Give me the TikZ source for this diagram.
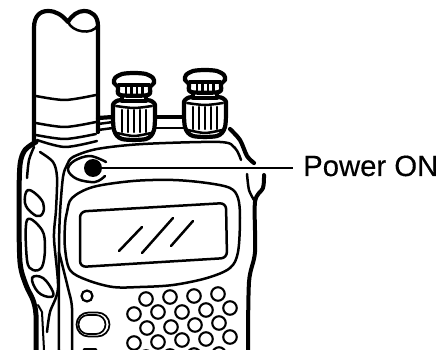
\documentclass[tikz,border=0pt]{standalone}
\usepackage{fontspec}
\setmainfont[FakeBold=0.35]{Liberation Sans}
\tikzset{
  thickline/.style={line width=4.2pt,line cap=round,line join=round},
  midline/.style={line width=2.5pt,line cap=round,line join=round},
  thinline/.style={line width=2pt,line cap=round,line join=round},
  speakerhole/.style={circle,draw,line width=2.1pt,minimum size=13.5pt,inner sep=0pt},
  knob/.pic={
    \draw[thickline,fill=white] plot[smooth cycle,tension=.5] coordinates {(-21,36)(-20,31)(-13,28)(13,28)(20,31)(21,36)(20,58)(12,67)(-12,67)(-20,58)};
    \draw[midline] plot[smooth] coordinates {(-18,34)(0,36)(18,34)};
    \foreach \r in {-12,-6,0,6,12} \draw[midline] (\r,38) -- (\r,60);
    \draw[midline] plot[smooth] coordinates {(-17,61)(0,64)(17,61)};
    \draw[thickline,fill=white] (-12,22) -- (-12,29) -- (12,29) -- (12,22);
    \draw[thickline,fill=white] plot[smooth cycle,tension=.5] coordinates {(-19,6)(-12,2)(0,1)(12,2)(19,6)(20,11)(16,15)(14,23)(-14,23)(-16,15)(-20,11)};
    \draw[line width=3.2pt] (-16,13) -- (16,13);
    \foreach \r in {-8,-2.5,3,8.5} \draw[line width=2.8pt] (\r,14) -- (\r,22);
  }
}
\begin{document}
\begin{tikzpicture}[x=1pt,y=-1pt]
\useasboundingbox (0,0) rectangle (440,350);
\clip (0,0) rectangle (440,350);
% antenna
\draw[thickline] (34,142) -- (34,28) .. controls (34,16) and (40,11) .. (48,11) .. controls (56,11) and (62,15) .. (68,22) .. controls (72,15) and (78,11) .. (84,11) .. controls (92,11) and (98,16) .. (98,26) -- (98,132);
\draw[midline] (68,22) .. controls (72,32) and (92,36) .. (98,25);
\draw[midline] plot[smooth] coordinates {(36,96)(65,100)(96,95)};
\draw[midline] plot[smooth] coordinates {(36,123)(65,127)(96,122)};
\draw[midline] plot[smooth] coordinates {(36,135)(65,139)(96,134)};
\draw[midline] plot[smooth] coordinates {(37,140)(65,147)(97,141)};
% links between the knobs
\draw[thickline] (98,118) -- (113,117);
\draw[midline] (98,124) -- (113,122);
\draw[midline] (98,130) -- (113,128);
\draw[thickline] (155,117) -- (185,117);
\draw[midline] (153,128) -- (185,128);
\pic at (134,72) {knob};
\pic at (205,69) {knob};
% left body edge
\draw[line width=5pt,line cap=round,line join=round] plot[smooth,tension=.5] coordinates {(36,142)(25,150)(20,165)(19,205)(20,262)(26,285)(33,300)(36,315)(36,350)};
\draw[thinline] (44,350) -- (42,312) -- (38,305);
\draw[midline] plot[smooth,tension=.5] coordinates {(34,147)(29,160)(27,178)};
\draw[midline] plot[smooth,tension=.5] coordinates {(40,152)(53,162)(57,177)(56,210)(54,238)(58,288)(50,312)(47,332)};
\draw[midline] plot[smooth,tension=.5] coordinates {(59,350)(59,252)(60,213)(63,177)(67,165)(73,157)(97,149)(143,144)(220,142)(235,148)(241,160)};
\draw[midline] plot[smooth,tension=.5] coordinates {(59,252)(68,288)(72,308)(72,350)};
% side buttons
\draw[midline] plot[smooth cycle,tension=.7] coordinates {(28,190)(40,198)(44,208)(40,216)(32,213)(25,203)};
\draw[midline] plot[smooth cycle,tension=.6] coordinates {(27,220)(42,230)(45,248)(42,267)(33,270)(27,260)};
\draw[midline] plot[smooth cycle,tension=.7] coordinates {(32,278)(43,278)(53,292)(50,297)(38,292)};
% right shoulder
\draw[thickline] plot[smooth,tension=.5] coordinates {(230,129)(240,140)(247,156)(254,163)};
\draw[midline] plot[smooth,tension=.5] coordinates {(247,174)(249,190)(254,200)};
\draw[line width=4pt,line cap=round,line join=round] plot[smooth,tension=.5] coordinates {(264,175)(263,188)(255,202)(255,252)(249,282)(248,350)};
% LED surround
\draw[midline] plot[smooth,tension=.6] coordinates {(106,162)(90,156)(74,161)(68,170)(77,179)(95,182)(105,176)};
\node[circle,fill=black,minimum size=18pt,inner sep=0pt] (led) at (93,168) {};
\node[anchor=base west,inner xsep=10pt,inner ysep=0pt,font=\fontsize{29.3pt}{30pt}\selectfont] (label) at (293,176) {Power ON};
\draw[line width=2pt] (led) -- (led -| label.west);
% display surround
\draw[midline] plot[smooth cycle,tension=.55] coordinates {(65,225)(67,212)(72,198)(93,187)(133,181)(173,180)(207,183)(230,188)(238,198)(240,218)(238,252)(230,268)(207,278)(173,285)(140,287)(113,287)(87,280)(70,270)(65,248)};
% screen
\draw[midline,rounded corners=6pt] (80,211.5) -- (226,203) -- (227,258) -- (80,267) -- cycle;
\draw[midline] (119,251) -- (142,227);
\draw[midline] (142,253) -- (173,218);
\draw[midline] (171,246) -- (193,221);
% small controls
\node[circle,draw,line width=2.2pt,minimum size=11pt,inner sep=0pt] (small) at (87,296) {};
\node[draw,line width=1.7pt,rounded corners=12pt,minimum width=33pt,minimum height=24pt,inner sep=0pt] (oval) at (93,324.5) {};
\node[draw,line width=1.7pt,rounded corners=9.5pt,minimum width=27pt,minimum height=19pt,inner sep=0pt] (ovalin) at (92,324.5) {};
\draw[midline] (84,349.5) -- (96,349.5);
% speaker grille
\foreach \n/\x/\y in {a/146/299,b/170/297,c/194/296,d/218/294,
  e/134/314,f/158/312,g/182/312,h/206/310,i/230/308,
  j/147/328,k/171/327,l/195/325,m/219/323,
  n/134/343,o/158/342,p/182/340,q/206/339,r/230/337,
  s/146/357,t/170/356,u/194/355,v/219/354}
  \node[speakerhole] (hole\n) at (\x,\y) {};
\end{tikzpicture}
\end{document}
